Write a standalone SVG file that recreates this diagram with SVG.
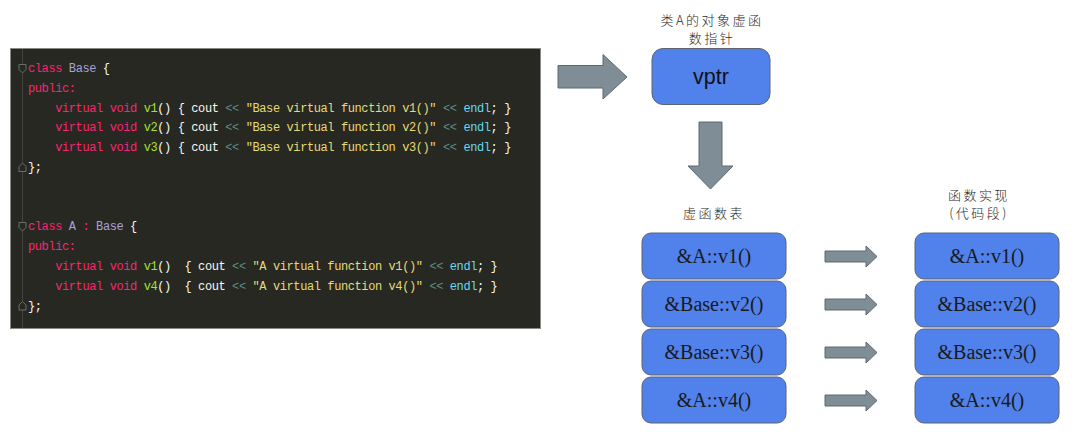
<svg xmlns="http://www.w3.org/2000/svg" width="1080" height="443" viewBox="0 0 1080 443">
<style>
.code{font-family:"Liberation Mono","DejaVu Sans Mono",monospace;font-size:12px;letter-spacing:-0.4px;fill:#F8F8F2}
.k{fill:#F92672}.c{fill:#A7A3D9}.f{fill:#A6E22E}.o{fill:#5E8D87}.s{fill:#E6DB74}.e{fill:#66D9EF}
.fold{fill:#272822;stroke:#6b6c66;stroke-width:1}
.box{fill:#5181EA;stroke:#5c6470;stroke-width:1}
.bt{font-family:"Liberation Serif","Times New Roman",serif;font-size:20px;fill:#1a1a1a;text-anchor:middle}
.cn{font-family:"Noto Sans CJK SC","Noto Sans",sans-serif;font-size:13px;fill:#2a2a2a;text-anchor:middle;letter-spacing:2.5px;font-weight:300}
.arr{fill:#7E8D96;stroke:#5d6a73;stroke-width:1}
</style>
<g id="code-panel">
<rect x="10.5" y="48.5" width="530" height="280" fill="#272822" stroke="#8a8a85" stroke-width="1"/>
<line x1="22.5" y1="49" x2="22.5" y2="328" stroke="#44453f" stroke-width="1"/>
<path class="fold" d="M19,64.5 h7 v5 l-3.5,3.5 l-3.5,-3.5 z"/>
<path class="fold" d="M19,171.5 h7 v-5 l-3.5,-3.5 l-3.5,3.5 z"/>
<path class="fold" d="M19,222.5 h7 v5 l-3.5,3.5 l-3.5,-3.5 z"/>
<path class="fold" d="M19,310 h7 v-5 l-3.5,-3.5 l-3.5,3.5 z"/>
<text class="code" xml:space="preserve" x="28" y="72"><tspan class="k">class</tspan> <tspan class="c">Base</tspan> {</text>
<text class="code" xml:space="preserve" x="28" y="92"><tspan class="k">public:</tspan></text>
<text class="code" xml:space="preserve" x="28" y="111.5">    <tspan class="k">virtual</tspan> <tspan class="k">void</tspan> <tspan class="f">v1</tspan>() { cout <tspan class="o">&lt;&lt;</tspan> <tspan class="s">"Base virtual function v1()"</tspan> <tspan class="o">&lt;&lt;</tspan> <tspan class="e">endl</tspan>; }</text>
<text class="code" xml:space="preserve" x="28" y="131">    <tspan class="k">virtual</tspan> <tspan class="k">void</tspan> <tspan class="f">v2</tspan>() { cout <tspan class="o">&lt;&lt;</tspan> <tspan class="s">"Base virtual function v2()"</tspan> <tspan class="o">&lt;&lt;</tspan> <tspan class="e">endl</tspan>; }</text>
<text class="code" xml:space="preserve" x="28" y="150.5">    <tspan class="k">virtual</tspan> <tspan class="k">void</tspan> <tspan class="f">v3</tspan>() { cout <tspan class="o">&lt;&lt;</tspan> <tspan class="s">"Base virtual function v3()"</tspan> <tspan class="o">&lt;&lt;</tspan> <tspan class="e">endl</tspan>; }</text>
<text class="code" xml:space="preserve" x="28" y="171">};</text>
<text class="code" xml:space="preserve" x="28" y="230"><tspan class="k">class</tspan> <tspan class="c">A</tspan> <tspan class="k">:</tspan> <tspan class="c">Base</tspan> {</text>
<text class="code" xml:space="preserve" x="28" y="250"><tspan class="k">public:</tspan></text>
<text class="code" xml:space="preserve" x="28" y="270">    <tspan class="k">virtual</tspan> <tspan class="k">void</tspan> <tspan class="f">v1</tspan>()  { cout <tspan class="o">&lt;&lt;</tspan> <tspan class="s">"A virtual function v1()"</tspan> <tspan class="o">&lt;&lt;</tspan> <tspan class="e">endl</tspan>; }</text>
<text class="code" xml:space="preserve" x="28" y="290">    <tspan class="k">virtual</tspan> <tspan class="k">void</tspan> <tspan class="f">v4</tspan>()  { cout <tspan class="o">&lt;&lt;</tspan> <tspan class="s">"A virtual function v4()"</tspan> <tspan class="o">&lt;&lt;</tspan> <tspan class="e">endl</tspan>; }</text>
<text class="code" xml:space="preserve" x="28" y="310">};</text>
</g>
<g id="connectors">
<polygon class="arr" points="558,65.5 603,65.5 603,54.5 627,77 603,99 603,88 558,88"/>
<polygon class="arr" points="699,122 722,122 722,166 733,166 710.5,189 688,166 699,166"/>
<polygon class="arr" points="825,251 866,251 866,246 877,256.5 866,267 866,262 825,262"/>
<polygon class="arr" points="825,299 866,299 866,294 877,304.5 866,315 866,310 825,310"/>
<polygon class="arr" points="825,347 866,347 866,342 877,352.5 866,363 866,358 825,358"/>
<polygon class="arr" points="825,395 866,395 866,390 877,400.5 866,411 866,406 825,406"/>
</g>
<g id="vptr">
<text class="cn" x="712" y="25">类A的对象虚函</text>
<text class="cn" x="712" y="43">数指针</text>
<rect class="box" x="652" y="48.5" width="118" height="56" rx="11"/>
<text x="711" y="84" text-anchor="middle" font-family="'Liberation Sans',Arial,sans-serif" font-size="21.5" fill="#111">vptr</text>
</g>
<g id="vtable">
<text class="cn" x="714" y="218">虚函数表</text>
<g id="vt-1"><rect class="box" x="642" y="233" width="144" height="46" rx="9"/><text class="bt" x="714" y="263">&amp;A::v1()</text></g>
<g id="vt-2"><rect class="box" x="642" y="281" width="144" height="46" rx="9"/><text class="bt" x="714" y="311">&amp;Base::v2()</text></g>
<g id="vt-3"><rect class="box" x="642" y="329" width="144" height="46" rx="9"/><text class="bt" x="714" y="359">&amp;Base::v3()</text></g>
<g id="vt-4"><rect class="box" x="642" y="377" width="144" height="46" rx="9"/><text class="bt" x="714" y="407">&amp;A::v4()</text></g>
</g>
<g id="impl">
<text class="cn" x="979" y="200">函数实现</text>
<text class="cn" x="979" y="218">(代码段)</text>
<g id="im-1"><rect class="box" x="915" y="233" width="144" height="46" rx="9"/><text class="bt" x="987" y="263">&amp;A::v1()</text></g>
<g id="im-2"><rect class="box" x="915" y="281" width="144" height="46" rx="9"/><text class="bt" x="987" y="311">&amp;Base::v2()</text></g>
<g id="im-3"><rect class="box" x="915" y="329" width="144" height="46" rx="9"/><text class="bt" x="987" y="359">&amp;Base::v3()</text></g>
<g id="im-4"><rect class="box" x="915" y="377" width="144" height="46" rx="9"/><text class="bt" x="987" y="407">&amp;A::v4()</text></g>
</g>
</svg>
